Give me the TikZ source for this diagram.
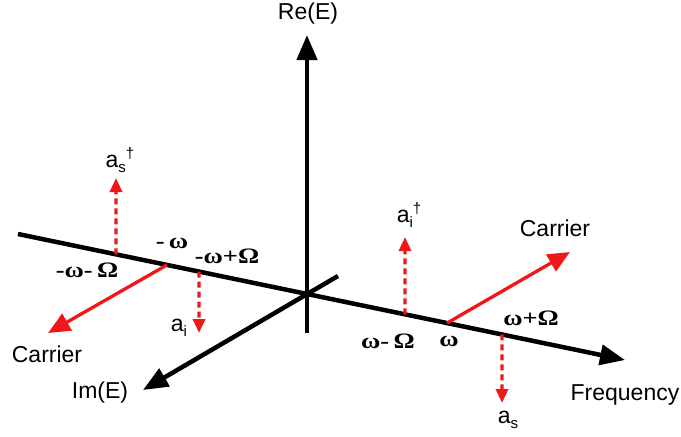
\documentclass[tikz,border=0pt]{standalone}
\usepackage{fontspec}
\setmainfont{Liberation Sans}
\newfontfamily\gkfont{Liberation Serif}
\usetikzlibrary{arrows.meta,calc}
\definecolor{myred}{RGB}{238,24,24}
\begin{document}
\begin{tikzpicture}[x=1pt,y=-1pt,
  axis/.style={line width=4.5pt,-{Triangle[length=25pt,width=20pt]}},
  carrier/.style={myred,line width=3.3pt,-{Triangle[length=22pt,width=19pt]}},
  mode/.style={myred,line width=3.2pt,dash pattern=on 6pt off 4pt,-{Triangle[length=14pt,width=12pt]}},
  lbl/.style={inner sep=0pt,font=\fontsize{23}{26}\selectfont},
  glbl/.style={inner sep=0pt,font=\gkfont\bfseries\fontsize{22}{26}\selectfont}]
\useasboundingbox (0,0) rectangle (681,437);
% axis points
\coordinate (Fl) at (18,234);
\coordinate (Fr) at (625,360);
\coordinate (Rb) at (307,333);
\coordinate (Rt) at (307,35);
\coordinate (Iu) at (338,276);
\coordinate (It) at (143,390);
% points on frequency axis
\coordinate (pAs) at ($(Fl)!0.1614!(Fr)$);
\coordinate (pCl) at ($(Fl)!0.2455!(Fr)$);
\coordinate (pAi) at ($(Fl)!0.2982!(Fr)$);
\coordinate (pBi) at ($(Fl)!0.6376!(Fr)$);
\coordinate (pCr) at ($(Fl)!0.7068!(Fr)$);
\coordinate (pBs) at ($(Fl)!0.7974!(Fr)$);
% arrow ends
\coordinate (eAs) at (116,178);
\coordinate (eCl) at (48,333);
\coordinate (eAi) at (199,333);
\coordinate (eBi) at (405,237);
\coordinate (eCr) at (570,252);
\coordinate (eBs) at (502,403);
% axes
\draw[axis] (Rb) -- (Rt);
\draw[axis] (Fl) -- (Fr);
\draw[axis] (Iu) -- (It);
% carriers and sidebands
\draw[carrier] (pCl) -- (eCl);
\draw[carrier] (pCr) -- (eCr);
\draw[mode] (pAs) -- (eAs);
\draw[mode] (pAi) -- (eAi);
\draw[mode] (pBi) -- (eBi);
\draw[mode] (pBs) -- (eBs);
% labels
\node[lbl] (re) at (308,14) {Re(E)};
\node[lbl] (im) at (100,393) {Im(E)};
\node[lbl] (fq) at (625,395) {Frequency};
\node[lbl] (cl) at (47,354) {Carrier};
\node[lbl] (cr) at (555,228) {Carrier};
\node[lbl] (las) at (120,160) {a\raisebox{-5pt}{\fontsize{15}{15}\selectfont s}\raisebox{9pt}{\fontsize{15}{15}\selectfont †}};
\node[lbl] (lai) at (179,328) {a\raisebox{-5pt}{\fontsize{15}{15}\selectfont i}};
\node[lbl] (lbi) at (409,215) {a\raisebox{-5pt}{\fontsize{15}{15}\selectfont i}\raisebox{9pt}{\fontsize{15}{15}\selectfont †}};
\node[lbl] (lbs) at (508,420) {a\raisebox{-5pt}{\fontsize{15}{15}\selectfont s}};
\node[glbl] (g1) at (87,270) {\scalebox{1.2}[1]{-ω-\,Ω}};
\node[glbl] (g2) at (172,243) {\scalebox{1.2}[1]{-\,ω}};
\node[glbl] (g3) at (227,256) {\scalebox{1.2}[1]{-ω+Ω}};
\node[glbl] (g4) at (388,341) {\scalebox{1.2}[1]{ω-\,Ω}};
\node[glbl] (g5) at (449,341) {\scalebox{1.2}[1]{ω}};
\node[glbl] (g6) at (531,318) {\scalebox{1.2}[1]{ω+Ω}};
\end{tikzpicture}
\end{document}
